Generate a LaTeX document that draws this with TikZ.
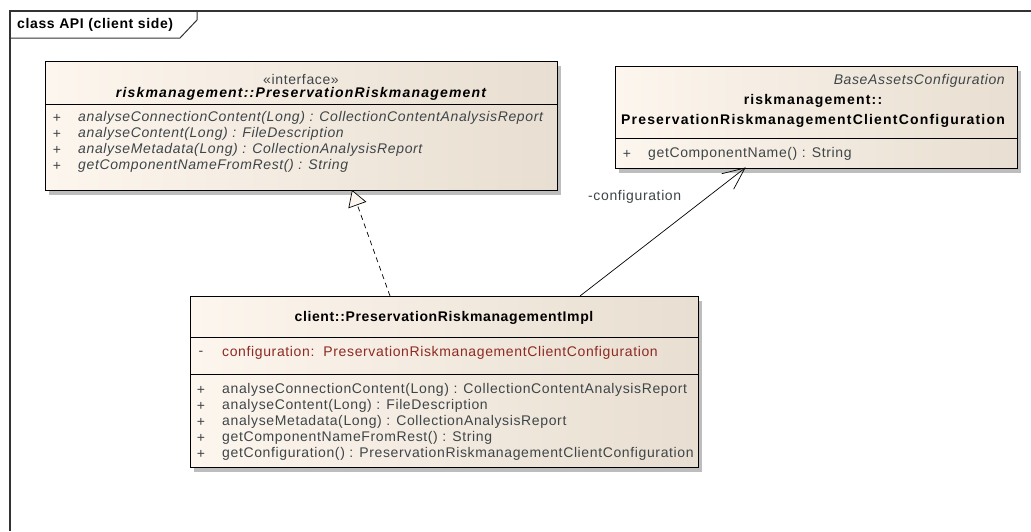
\documentclass[tikz,border=0pt]{standalone}
\usepackage{fontspec}
\setmainfont{Liberation Sans}
\newfontfamily\umlfont[LetterSpace=4.5]{Liberation Sans}
\newfontfamily\umlwide[LetterSpace=8.5]{Liberation Sans}
\usetikzlibrary{arrows.meta,calc}
\definecolor{boxL}{HTML}{FDF6EE}
\definecolor{boxR}{HTML}{E8DED1}
\definecolor{optext}{HTML}{3E4548}
\definecolor{attrtext}{HTML}{8E2A22}
\definecolor{shadowc}{HTML}{BDBDBD}
\definecolor{framec}{HTML}{333333}
\tikzset{
  umlsize/.style={font=\umlfont\fontsize{14}{16}\selectfont},
  classbox/.style={draw=black, line width=0.9pt, left color=boxL, right color=boxR},
  shadowbox/.style={fill=shadowc, draw=none},
  sepline/.style={draw=black, line width=0.9pt},
  optxt/.style={umlsize, anchor=west, text=optext, inner sep=0pt},
  itoptxt/.style={optxt, font=\umlfont\fontsize{14}{16}\selectfont\itshape},
  plus/.style={umlsize, anchor=center, text=optext, inner sep=0pt},
  attrtxt/.style={umlsize, anchor=west, text=attrtext, inner sep=0pt},
  titletxt/.style={font=\umlfont\fontsize{14}{16}\selectfont\bfseries, anchor=center, inner sep=0pt, text=black},
  widetitle/.style={titletxt, font=\umlwide\fontsize{14}{16}\selectfont\bfseries},
  stereo/.style={umlsize, anchor=center, inner sep=0pt, text=optext},
  conn/.style={draw=black, line width=0.7pt},
}
\begin{document}
\begin{tikzpicture}[x=1pt,y=-1pt]
\useasboundingbox (0,0) rectangle (1031,531);
\fill[white] (0,0) rectangle (1031,531);
% frame
\draw[framec, line width=1.3pt] (1031,11) -- (10,11) -- (10,531);
\draw[framec, line width=1pt] (10,38) -- (180,38) -- (197,20) -- (197,11);
\node[titletxt, anchor=west] (frametitle) at (17,25) {class API (client side)};

% ---------- interface box
\fill[shadowbox] (49,66) rectangle (561,195);
\node[classbox, anchor=north west, minimum width=512pt, minimum height=129pt, inner sep=0pt] (iface) at (45,61) {};
\draw[sepline] (45,104) -- (557,104);
\node[stereo] (ifst) at (301,79) {«interface»};
\node[widetitle, font=\umlwide\fontsize{14}{16}\selectfont\bfseries\itshape] (ifname) at (301,94) {riskmanagement::PreservationRiskmanagement};
\node[plus] (ip1) at (57,118) {+};
\node[plus] (ip2) at (57,134) {+};
\node[plus] (ip3) at (57,150) {+};
\node[plus] (ip4) at (57,166) {+};
\node[itoptxt] (io1) at (78,118) {analyseConnectionContent(Long) : CollectionContentAnalysisReport};
\node[itoptxt] (io2) at (78,134) {analyseContent(Long) : FileDescription};
\node[itoptxt] (io3) at (78,150) {analyseMetadata(Long) : CollectionAnalysisReport};
\node[itoptxt] (io4) at (78,166) {getComponentNameFromRest() : String};

% ---------- configuration box
\fill[shadowbox] (619,71) rectangle (1021,173);
\node[classbox, anchor=north west, minimum width=402pt, minimum height=102pt, inner sep=0pt] (conf) at (615,66) {};
\draw[sepline] (615,138) -- (1017,138);
\node[stereo, anchor=east, font=\umlfont\fontsize{14}{16}\selectfont\itshape] (confbase) at (1005,81) {BaseAssetsConfiguration};
\node[widetitle] (confn1) at (813,101) {riskmanagement::};
\node[widetitle] (confn2) at (813,121) {PreservationRiskmanagementClientConfiguration};
\node[plus] (cp1) at (627,154) {+};
\node[optxt] (co1) at (648,154) {getComponentName() : String};

% ---------- implementation box
\fill[shadowbox] (194,301) rectangle (702,472);
\node[classbox, anchor=north west, minimum width=508pt, minimum height=171pt, inner sep=0pt] (impl) at (190,296) {};
\node[titletxt] (implname) at (444,318) {client::PreservationRiskmanagementImpl};
\draw[sepline] (190,337) -- (698,337);
\node[plus] (ia0) at (201,353) {-};
\node[attrtxt] (iattr) at (222,353) {configuration:\ \ PreservationRiskmanagementClientConfiguration};
\draw[sepline] (190,374) -- (698,374);
\node[plus] (im1) at (201,390) {+};
\node[plus] (im2) at (201,406) {+};
\node[plus] (im3) at (201,422) {+};
\node[plus] (im4) at (201,438) {+};
\node[plus] (im5) at (201,454) {+};
\node[optxt] (iop1) at (222,390) {analyseConnectionContent(Long) : CollectionContentAnalysisReport};
\node[optxt] (iop2) at (222,406) {analyseContent(Long) : FileDescription};
\node[optxt] (iop3) at (222,422) {analyseMetadata(Long) : CollectionAnalysisReport};
\node[optxt] (iop4) at (222,438) {getComponentNameFromRest() : String};
\node[optxt] (iop5) at (222,454) {getConfiguration() : PreservationRiskmanagementClientConfiguration};

% ---------- connectors
\coordinate (realS) at (390,296);
\coordinate (realE) at (352,190);
\draw[conn, dash pattern=on 5pt off 4pt, -{Triangle[open, length=16pt, width=19pt, fill=boxL]}] (realS) -- (realE);
\coordinate (assS) at (580,296);
\coordinate (assE) at (745,168);
\draw[conn] (assS) -- (assE);
\draw[conn] ($(assE)!24pt!24:(assS)$) -- (assE) -- ($(assE)!24pt!-24:(assS)$);
\node[optxt, anchor=west] (asslabel) at (588,197) {-configuration};
\end{tikzpicture}
\end{document}
